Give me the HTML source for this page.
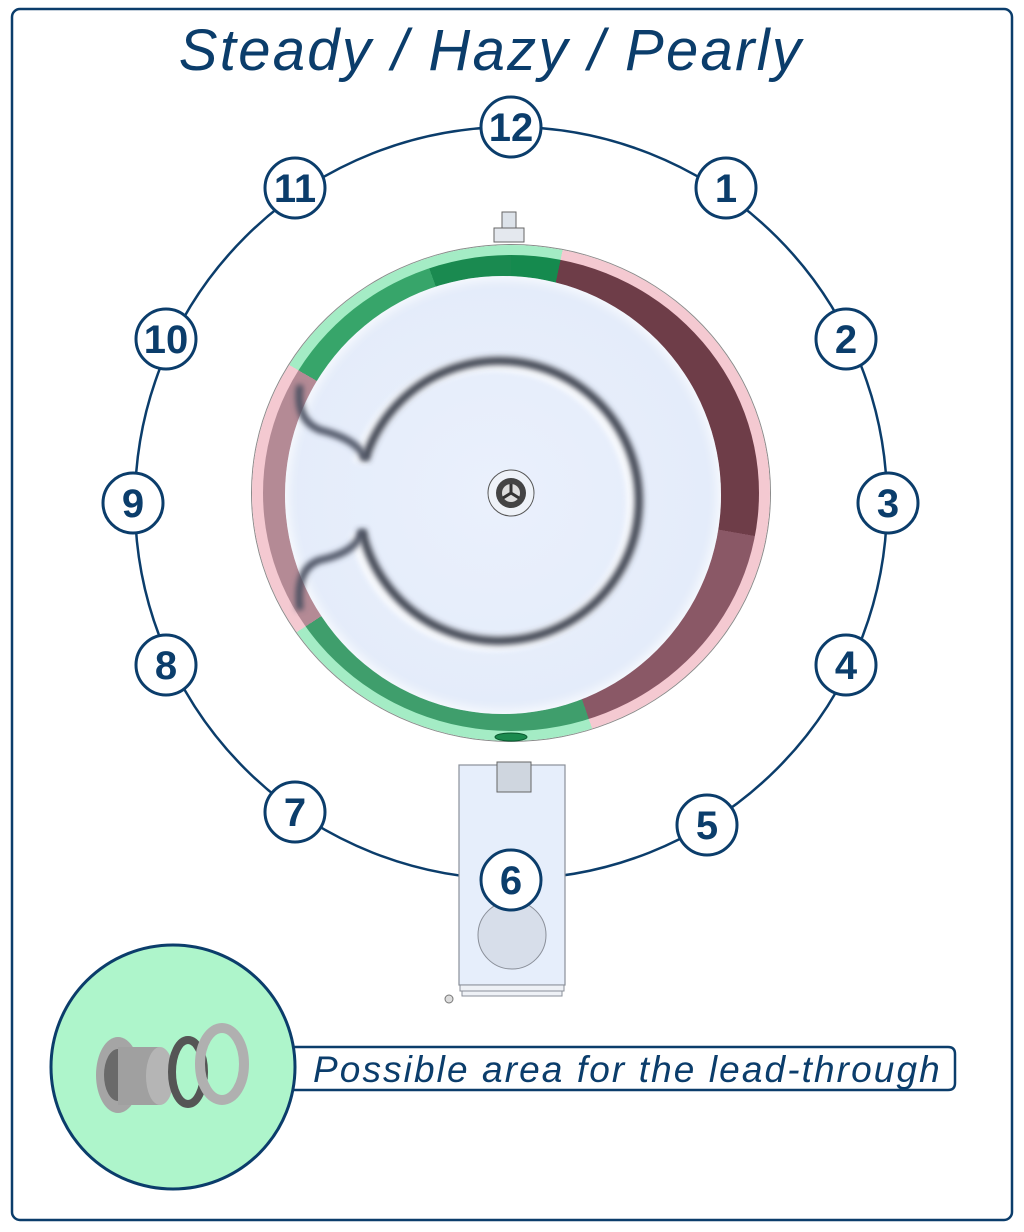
<!DOCTYPE html>
<html><head><meta charset="utf-8"><style>
html,body{margin:0;padding:0;background:#fff;}
body{width:1024px;height:1232px;position:relative;overflow:hidden;font-family:"Liberation Sans",sans-serif;}
.tub{position:absolute;border-radius:50%;}
</style></head><body>
<svg width="1024" height="1232" style="position:absolute;left:0;top:0">
<rect x="12" y="9" width="1000" height="1211" rx="8" fill="#fff" stroke="#0b3d6b" stroke-width="2.5"/>
<text x="491" y="70" text-anchor="middle" font-family="Liberation Sans" font-style="italic" font-size="58" fill="#0b3d6b" letter-spacing="2.3">Steady / Hazy / Pearly</text>
<circle cx="511" cy="503" r="376" fill="none" stroke="#0b3d6b" stroke-width="2.5"/>
</svg>
<div class="tub" style="left:252px;top:245px;width:518px;height:496px;background:conic-gradient(from 0deg at 50% 50%,#a4ecc5 0deg 12deg,#f4c9d1 12deg 161deg,#a4ecc5 161deg 237deg,#f4c9d1 237deg 300deg,#a4ecc5 300deg 360deg);box-shadow:0 0 0 1px #8a8a8a"></div>
<div class="tub" style="left:263px;top:255px;width:496px;height:476px;background:conic-gradient(from 0deg at 50% 50%,#158a4e 0deg 12deg,#6e3d48 12deg 100deg,#8a5866 100deg 161deg,#3f9e6c 161deg 237deg,#b48a95 237deg 300deg,#37a56a 300deg 340deg,#1a8a50 340deg 360deg)"></div>
<div class="tub" style="left:285px;top:276px;width:436px;height:438px;background:radial-gradient(circle at 48% 50%,#eaf0fc 0%,#e4ecfa 70%,#dfe6f6 100%);box-shadow:0 0 10px 4px rgba(255,255,255,0.7) inset"></div>
<svg width="1024" height="1232" style="position:absolute;left:0;top:0">
<defs><filter id="b" x="-20%" y="-20%" width="140%" height="140%"><feGaussianBlur stdDeviation="3"/></filter></defs>
<path d="M365,460 A140,140 0 1 1 362,530" fill="none" stroke="#fff" stroke-width="14" opacity="0.8" filter="url(#b)" transform="translate(-5,3)"/>
<path d="M365,460 A140,140 0 1 1 362,530" fill="none" stroke="#3c4250" stroke-width="8" filter="url(#b)"/>
<path d="M365,460 Q360,440 320,430 Q295,420 300,385 M362,530 Q358,552 320,560 Q295,568 300,610" fill="none" stroke="#4a5060" stroke-width="7" filter="url(#b)"/>
<circle cx="511" cy="493" r="23" fill="#eef2f8" stroke="#555" stroke-width="1"/>
<circle cx="511" cy="493" r="15" fill="#444"/>
<circle cx="511" cy="493" r="9" fill="#ddd"/>
<path d="M511,493 L511,484 M511,493 L503,498 M511,493 L519,498" stroke="#333" stroke-width="3"/>
<rect x="502" y="212" width="14" height="18" fill="#dde3ea" stroke="#666"/>
<rect x="494" y="228" width="30" height="14" fill="#e4e8ee" stroke="#666"/>
<ellipse cx="511" cy="737" rx="16" ry="4" fill="#1b8a4e" stroke="#0a5a30"/>
<rect x="459" y="765" width="106" height="220" fill="#e6eefb" stroke="#8a8f99" stroke-width="1.2"/>
<rect x="497" y="762" width="34" height="30" fill="#cfd6df" stroke="#666"/>
<circle cx="512" cy="935" r="34" fill="#d7deea" stroke="#8a8f99"/>
<rect x="460" y="985" width="104" height="6" fill="#eef1f6" stroke="#8a8f99"/>
<rect x="462" y="991" width="100" height="5" fill="#eef1f6" stroke="#8a8f99"/>
<circle cx="449" cy="999" r="4" fill="#ddd" stroke="#777"/>
<g fill="#fff" stroke="#0b3d6b" stroke-width="3">
<circle cx="511" cy="127" r="30"/><circle cx="726" cy="188" r="30"/><circle cx="846" cy="339" r="30"/>
<circle cx="888" cy="503" r="30"/><circle cx="846" cy="665" r="30"/><circle cx="707" cy="825" r="30"/>
<circle cx="511" cy="880" r="30"/><circle cx="295" cy="812" r="30"/><circle cx="166" cy="665" r="30"/>
<circle cx="133" cy="503" r="30"/><circle cx="166" cy="339" r="30"/><circle cx="295" cy="188" r="30"/>
</g>
<g fill="#0b3d6b" font-family="Liberation Sans" font-weight="bold" font-size="40" text-anchor="middle">
<text x="511" y="141">12</text><text x="726" y="202">1</text><text x="846" y="353">2</text>
<text x="888" y="517">3</text><text x="846" y="679">4</text><text x="707" y="839">5</text>
<text x="511" y="894">6</text><text x="295" y="826">7</text><text x="166" y="679">8</text>
<text x="133" y="517">9</text><text x="166" y="353">10</text><text x="295" y="202">11</text>
</g>
<path d="M280,1047 L948,1047 Q955,1047 955,1054 L955,1083 Q955,1090 948,1090 L280,1090" fill="#fff" stroke="#0b3d6b" stroke-width="2.5"/>
<circle cx="173" cy="1067" r="122" fill="#aef5cb" stroke="#0b3d6b" stroke-width="3"/>
<text x="313" y="1082" font-family="Liberation Sans" font-style="italic" font-size="37" fill="#0b3d6b" letter-spacing="2.1">Possible area for the lead-through</text>
<ellipse cx="118" cy="1075" rx="22" ry="38" fill="#a5a5a5"/>
<ellipse cx="118" cy="1075" rx="14" ry="26" fill="#6a6a6a"/>
<rect x="118" y="1047" width="42" height="58" fill="#a0a0a0"/>
<ellipse cx="160" cy="1076" rx="14" ry="29" fill="#b5b5b5"/>
<ellipse cx="188" cy="1072" rx="16" ry="32" fill="none" stroke="#555" stroke-width="8"/>
<ellipse cx="222" cy="1064" rx="22" ry="36" fill="none" stroke="#b0b0b0" stroke-width="10"/>
</svg>
</body></html>
